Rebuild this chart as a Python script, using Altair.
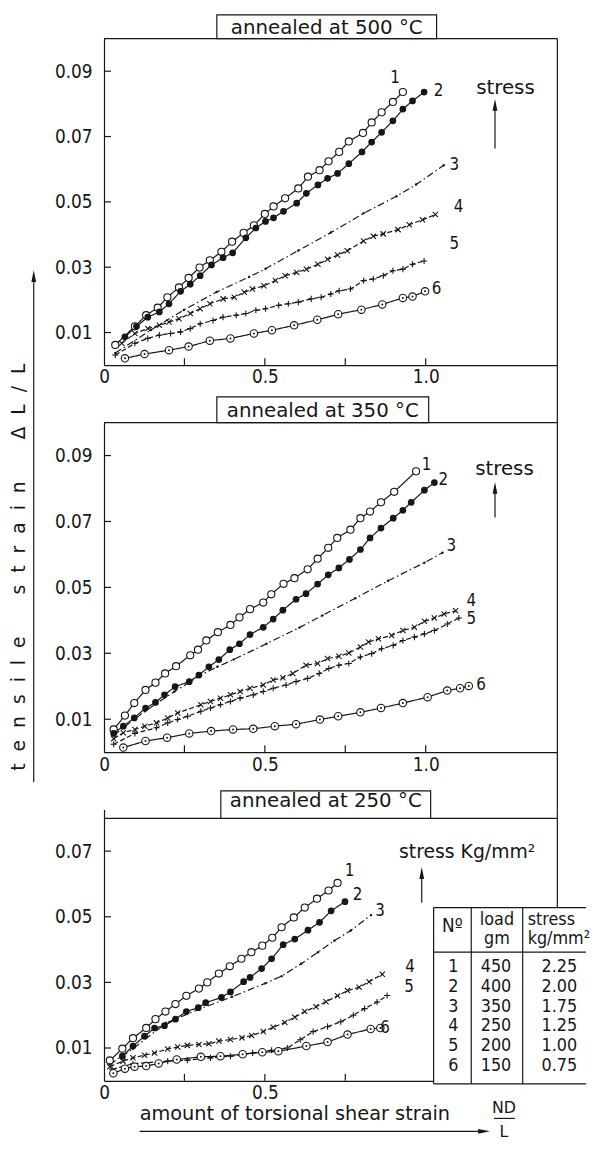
import altair as alt
import pandas as pd

# ---------------- data ----------------
SERIES = ["1", "2", "3", "4", "5", "6"]
LOAD_GM = ["450", "400", "350", "250", "200", "150"]
STRESS_KG = ["2.25", "2.00", "1.75", "1.25", "1.00", "0.75"]

# annealed at 500 C
T1_X = [0.035,0.096,0.131,0.167,0.197,0.233,0.263,0.297,0.329,0.365,0.398,0.434,0.466,0.500,0.527,0.563,0.604,0.634,0.670,0.698,0.731,0.761,0.805,0.832,0.863,0.898,0.929]
T1_Y = [0.0062,0.0119,0.0153,0.0176,0.0208,0.0238,0.0267,0.0299,0.0321,0.0347,0.0378,0.0405,0.0428,0.0463,0.0486,0.0511,0.0541,0.0577,0.0597,0.0624,0.0653,0.0685,0.0711,0.0743,0.0774,0.0806,0.0836]
T2_X = [0.065,0.101,0.136,0.172,0.202,0.238,0.268,0.299,0.334,0.370,0.400,0.441,0.472,0.502,0.527,0.558,0.599,0.629,0.665,0.695,0.726,0.761,0.802,0.832,0.863,0.898,0.929,0.959,0.995]
T2_Y = [0.0087,0.0119,0.0147,0.0163,0.0188,0.0226,0.0248,0.0274,0.0307,0.0329,0.0344,0.0390,0.0420,0.0440,0.0451,0.0471,0.0496,0.0526,0.0552,0.0572,0.0587,0.0617,0.0653,0.0683,0.0713,0.0748,0.0784,0.0809,0.0836]
T3_X = [0.035,0.146,0.248,0.350,0.451,0.502,0.604,0.705,0.807,0.909,0.970,1.056]
T3_Y = [0.0037,0.0108,0.0169,0.0224,0.0270,0.0295,0.0351,0.0406,0.0465,0.0517,0.0553,0.0612]
T4_X = [0.055,0.096,0.136,0.172,0.202,0.233,0.268,0.299,0.329,0.370,0.405,0.436,0.461,0.497,0.533,0.563,0.599,0.629,0.665,0.695,0.726,0.756,0.807,0.837,0.868,0.914,0.949,0.990,1.030]
T4_Y = [0.0067,0.0097,0.0112,0.0122,0.0132,0.0142,0.0158,0.0173,0.0188,0.0203,0.0208,0.0223,0.0233,0.0243,0.0259,0.0274,0.0284,0.0294,0.0309,0.0324,0.0337,0.0350,0.0380,0.0395,0.0402,0.0415,0.0430,0.0445,0.0461]
T5_X = [0.035,0.096,0.136,0.172,0.207,0.238,0.268,0.299,0.339,0.370,0.411,0.441,0.472,0.502,0.543,0.573,0.604,0.644,0.675,0.705,0.731,0.766,0.807,0.837,0.868,0.898,0.929,0.959,0.995]
T5_Y = [0.0031,0.0067,0.0082,0.0092,0.0097,0.0102,0.0112,0.0127,0.0137,0.0147,0.0153,0.0158,0.0168,0.0173,0.0183,0.0188,0.0193,0.0203,0.0208,0.0218,0.0228,0.0233,0.0259,0.0264,0.0274,0.0289,0.0294,0.0309,0.0319]
T6_X = [0.065,0.126,0.202,0.263,0.329,0.393,0.466,0.522,0.591,0.663,0.728,0.800,0.865,0.929,0.959,0.998]
T6_Y = [0.0021,0.0034,0.0046,0.0057,0.0075,0.0082,0.0097,0.0107,0.0122,0.0139,0.0156,0.0170,0.0186,0.0206,0.0210,0.0226]
T_LAB_X = [0.905,1.040,1.089,1.102,1.089,1.034]
T_LAB_Y = [0.0879,0.0839,0.0612,0.0485,0.0370,0.0233]

# annealed at 350 C
M1_X = [0.030,0.065,0.094,0.129,0.160,0.190,0.224,0.268,0.292,0.318,0.354,0.393,0.421,0.454,0.495,0.520,0.558,0.592,0.633,0.664,0.697,0.725,0.766,0.797,0.827,0.861,0.902,0.970]
M1_Y = [0.0069,0.0111,0.0149,0.0189,0.0211,0.0239,0.0261,0.0294,0.0311,0.0339,0.0364,0.0386,0.0409,0.0434,0.0454,0.0479,0.0511,0.0528,0.0555,0.0587,0.0620,0.0650,0.0675,0.0710,0.0730,0.0758,0.0790,0.0852]
M2_X = [0.030,0.060,0.094,0.129,0.160,0.188,0.221,0.265,0.295,0.326,0.357,0.391,0.421,0.454,0.495,0.526,0.556,0.597,0.628,0.664,0.697,0.730,0.763,0.797,0.827,0.861,0.899,0.929,0.955,0.996,1.027]
M2_Y = [0.0057,0.0079,0.0104,0.0134,0.0151,0.0174,0.0199,0.0214,0.0234,0.0259,0.0281,0.0311,0.0329,0.0357,0.0379,0.0404,0.0431,0.0464,0.0481,0.0510,0.0538,0.0559,0.0585,0.0615,0.0650,0.0680,0.0710,0.0734,0.0758,0.0795,0.0818]
M3_X = [0.030,0.127,0.219,0.301,0.352,0.403,0.505,0.607,0.679,0.781,0.883,0.996,1.052]
M3_Y = [0.0051,0.0124,0.0184,0.0234,0.0259,0.0281,0.0329,0.0378,0.0415,0.0467,0.0520,0.0575,0.0605]
M4_X = [0.030,0.060,0.096,0.127,0.163,0.198,0.229,0.301,0.331,0.362,0.393,0.423,0.454,0.495,0.526,0.556,0.587,0.628,0.664,0.695,0.730,0.761,0.797,0.822,0.853,0.894,0.929,0.965,0.996,1.027,1.057,1.093]
M4_Y = [0.0041,0.0059,0.0069,0.0079,0.0089,0.0104,0.0119,0.0144,0.0154,0.0164,0.0174,0.0184,0.0194,0.0204,0.0219,0.0226,0.0239,0.0264,0.0269,0.0284,0.0291,0.0301,0.0319,0.0334,0.0344,0.0354,0.0369,0.0379,0.0397,0.0407,0.0419,0.0429]
M5_X = [0.030,0.096,0.163,0.198,0.229,0.260,0.301,0.331,0.362,0.393,0.423,0.464,0.495,0.526,0.566,0.597,0.633,0.669,0.699,0.730,0.761,0.797,0.832,0.863,0.899,0.929,0.965,0.996,1.027,1.067,1.103]
M5_Y = [0.0024,0.0057,0.0074,0.0089,0.0099,0.0109,0.0124,0.0134,0.0144,0.0154,0.0164,0.0174,0.0184,0.0194,0.0204,0.0214,0.0224,0.0239,0.0254,0.0264,0.0269,0.0289,0.0299,0.0314,0.0324,0.0339,0.0349,0.0359,0.0369,0.0389,0.0407]
M6_X = [0.060,0.129,0.196,0.265,0.333,0.401,0.464,0.531,0.597,0.671,0.728,0.797,0.861,0.929,1.006,1.067,1.107,1.134]
M6_Y = [0.0014,0.0034,0.0044,0.0057,0.0064,0.0069,0.0071,0.0079,0.0085,0.0099,0.0109,0.0121,0.0134,0.0149,0.0167,0.0187,0.0194,0.0201]
M_LAB_X = [1.003,1.055,1.080,1.142,1.142,1.172]
M_LAB_Y = [0.0871,0.0826,0.0625,0.0459,0.0405,0.0204]

# annealed at 250 C
B1_X = [0.018,0.057,0.090,0.131,0.160,0.191,0.222,0.256,0.295,0.321,0.357,0.391,0.427,0.458,0.492,0.523,0.552,0.590,0.624,0.662,0.698,0.726]
B1_Y = [0.0062,0.0098,0.0130,0.0161,0.0188,0.0211,0.0234,0.0259,0.0281,0.0300,0.0327,0.0349,0.0372,0.0392,0.0412,0.0436,0.0468,0.0498,0.0528,0.0555,0.0580,0.0603]
B2_X = [0.057,0.090,0.126,0.157,0.188,0.222,0.256,0.293,0.316,0.365,0.393,0.434,0.454,0.490,0.521,0.557,0.593,0.634,0.670,0.706,0.749]
B2_Y = [0.0075,0.0106,0.0136,0.0161,0.0168,0.0188,0.0211,0.0223,0.0238,0.0254,0.0271,0.0302,0.0315,0.0342,0.0372,0.0415,0.0432,0.0459,0.0483,0.0518,0.0546]
B3_X = [0.018,0.090,0.193,0.295,0.398,0.501,0.552,0.613,0.665,0.716,0.767,0.830]
B3_Y = [0.0050,0.0098,0.0176,0.0218,0.0256,0.0297,0.0319,0.0357,0.0392,0.0427,0.0458,0.0505]
B4_X = [0.018,0.059,0.090,0.126,0.157,0.198,0.229,0.259,0.295,0.326,0.357,0.393,0.429,0.459,0.495,0.526,0.562,0.593,0.624,0.659,0.690,0.726,0.757,0.793,0.824,0.865]
B4_Y = [0.0043,0.0060,0.0070,0.0078,0.0085,0.0097,0.0103,0.0108,0.0111,0.0113,0.0121,0.0126,0.0131,0.0138,0.0150,0.0163,0.0178,0.0194,0.0211,0.0226,0.0241,0.0259,0.0275,0.0285,0.0302,0.0325]
B5_X = [0.025,0.090,0.198,0.259,0.331,0.393,0.462,0.521,0.570,0.610,0.650,0.695,0.736,0.775,0.810,0.849,0.880]
B5_Y = [0.0035,0.0052,0.0060,0.0063,0.0070,0.0075,0.0085,0.0093,0.0100,0.0125,0.0150,0.0165,0.0180,0.0200,0.0220,0.0240,0.0260]
B6_X = [0.029,0.065,0.095,0.131,0.170,0.226,0.301,0.362,0.431,0.492,0.542,0.629,0.695,0.757,0.829,0.859]
B6_Y = [0.0023,0.0037,0.0043,0.0045,0.0053,0.0065,0.0073,0.0075,0.0081,0.0087,0.0090,0.0106,0.0118,0.0141,0.0158,0.0161]
B_LAB_X = [0.763,0.788,0.858,0.951,0.948,0.874]
B_LAB_Y = [0.0640,0.0565,0.0516,0.0347,0.0287,0.0160]

Y_TICKS_10 = [0.01, 0.03, 0.05, 0.07, 0.09]
Y_TICKS_8 = [0.01, 0.03, 0.05, 0.07]
X_LABELS_FULL = [0, 0.5, 1.0]
X_LABELS_BOT = [0, 0.5]
X_TICKS_FULL = [0.25, 0.5, 0.75, 1.0]
X_TICKS_BOT = [0.25, 0.5, 0.75]

# ---------------- styling / layout ----------------
INK = "#161616"
FONT_T = "DejaVu Sans"
FONT_N = "DejaVu Sans Condensed, Liberation Sans Narrow, DejaVu Sans"
W = 458
XMAX = W / 325.0
GAP = 58
H_TOP, H_MID, H_BOT = 330, 333, 274
DASHES = [[1, 0], [1, 0], [7, 3, 1.5, 3], [5, 2.5], [5, 2.5], [1, 0]]
SHAPE_X = "M-1,-1L1,1M-1,1L1,-1"
SHAPE_P = "M-1,0L1,0M0,-1L0,1"
HEAD_UP = "M0,-1L0.4,1L-0.4,1Z"
HEAD_RIGHT = "M1,0L-1,0.4L-1,-0.4Z"
NB = "\u00a0"

ONE = pd.DataFrame({"k": [0]})


def panel_df(xs_list, ys_list):
    rows = []
    for s, xs, ys in zip(SERIES, xs_list, ys_list):
        for x, y in zip(xs, ys):
            rows.append({"s": s, "x": x, "y": y})
    return pd.DataFrame(rows)


def hrule(y, x1, x2, w=1.2, color=INK):
    return alt.Chart(ONE).mark_rule(color=color, strokeWidth=w).encode(
        y=alt.value(y), x=alt.value(x1), x2=alt.value(x2))


def vrule(x, y1, y2, w=1.2, color=INK):
    return alt.Chart(ONE).mark_rule(color=color, strokeWidth=w).encode(
        x=alt.value(x), y=alt.value(y1), y2=alt.value(y2))


def txt(t, x, y, size, font=FONT_T, align="left", baseline="alphabetic", angle=0, lh=None):
    kw = dict(text=t, font=font, fontSize=size, align=align, baseline=baseline, color=INK)
    if angle:
        kw["angle"] = angle
    if lh:
        kw["lineHeight"] = lh
    return alt.Chart(ONE).mark_text(**kw).encode(x=alt.value(x), y=alt.value(y))


def head(shape, x, y, size=144):
    return alt.Chart(ONE).mark_point(shape=shape, filled=True, color=INK, size=size,
                                     opacity=1, strokeWidth=0).encode(x=alt.value(x), y=alt.value(y))


def rect(x1, x2, y1, y2, stroke=True):
    kw = dict(fill="white")
    if stroke:
        kw.update(stroke=INK, strokeWidth=1.2)
    else:
        kw.update(strokeWidth=0)
    return alt.Chart(ONE).mark_rect(**kw).encode(
        x=alt.value(x1), x2=alt.value(x2), y=alt.value(y1), y2=alt.value(y2))


def panel(xs_list, ys_list, lab_x, lab_y, h, ymax, yticks, xlabels, xticks, extras_after):
    df = panel_df(xs_list, ys_list)
    xsc = alt.Scale(domain=[0, XMAX], nice=False, zero=False)
    ysc = alt.Scale(domain=[0, ymax], nice=False, zero=False)
    X = alt.X("x:Q", scale=xsc, title=None, axis=alt.Axis(
        values=xlabels, labelExpr="datum.value == 0 ? '0' : format(datum.value, '.1f')",
        ticks=False, grid=False, domainColor=INK, domainWidth=1.2, labelFont=FONT_N,
        labelFontSize=19, labelColor=INK, labelPadding=3, labelFlush=False, labelOverlap=False))
    Y = alt.Y("y:Q", scale=ysc, title=None, axis=alt.Axis(
        values=yticks, format=".2f", ticks=False, grid=False, domainColor=INK, domainWidth=1.2,
        labelFont=FONT_N, labelFontSize=19, labelColor=INK, labelPadding=12,
        labelFlush=False, labelOverlap=False))
    base = alt.Chart(df)

    def sel(s):
        return base.transform_filter(f"datum.s == '{s}'")

    layers = [
        base.mark_line(color=INK, strokeWidth=1.2).encode(
            X, Y, strokeDash=alt.StrokeDash("s:N", scale=alt.Scale(domain=SERIES, range=DASHES), legend=None)),
        sel("1").mark_point(shape="circle", filled=True, fill="white", stroke=INK,
                            strokeWidth=1.1, size=52, opacity=1).encode(X, Y),
        sel("2").mark_point(shape="circle", filled=True, color=INK, size=46, opacity=1).encode(X, Y),
        sel("3").mark_point(shape="circle", filled=True, color=INK, size=6, opacity=1).encode(X, Y),
        sel("4").mark_point(shape=SHAPE_X, filled=False, color=INK, strokeWidth=1.1, size=28, opacity=1).encode(X, Y),
        sel("5").mark_point(shape=SHAPE_P, filled=False, color=INK, strokeWidth=1.1, size=38, opacity=1).encode(X, Y),
        sel("6").mark_point(shape="circle", filled=True, fill="white", stroke=INK,
                            strokeWidth=1.1, size=56, opacity=1).encode(X, Y),
        sel("6").mark_point(shape="circle", filled=True, color=INK, size=4, opacity=1).encode(X, Y),
        alt.Chart(pd.DataFrame({"y": yticks})).mark_rule(color=INK, strokeWidth=1.2).encode(
            Y, x=alt.value(0), x2=alt.value(7)),
        alt.Chart(pd.DataFrame({"x": xticks})).mark_rule(color=INK, strokeWidth=1.2).encode(
            X, y=alt.value(h), y2=alt.value(h - 7)),
        alt.Chart(pd.DataFrame({"s": SERIES, "x": lab_x, "y": lab_y})).mark_text(
            font=FONT_N, fontSize=17, color=INK).encode(X, Y, text="s:N"),
    ]
    layers += list(extras_after)
    return alt.layer(*layers).properties(width=W, height=h)


# ---------------- top panel ----------------
top_extra = [
    hrule(0, 0, W), vrule(W, 0, H_TOP + GAP),
    rect(114, 336, -24, 0),
    txt("annealed at 500 °C", 225, -5, 20, align="center"),
    txt("stress", 376, 56, 20),
    vrule(395, 66, 111), head(HEAD_UP, 395, 67),
    vrule(-96, 0, 4, w=1, color="white"),
]
top = panel([T1_X, T2_X, T3_X, T4_X, T5_X, T6_X], [T1_Y, T2_Y, T3_Y, T4_Y, T5_Y, T6_Y],
            T_LAB_X, T_LAB_Y, H_TOP, 0.1, Y_TICKS_10, X_LABELS_FULL, X_TICKS_FULL, top_extra)

# ---------------- middle panel ----------------
ylab = (NB * 2).join("tensile") + NB * 7 + (NB * 2).join("strain") + NB * 7 + (NB * 2).join("ΔL/L")
mid_extra = [
    hrule(0, 0, W), vrule(W, 0, H_MID + GAP),
    rect(114, 328, -26, 0),
    txt("annealed at 350 °C", 221, -6, 20, align="center"),
    txt("stress", 375, 53, 20),
    vrule(395, 65, 96), head(HEAD_UP, 395, 66),
    txt(ylab, -86, 146, 19, align="center", baseline="middle", angle=270),
    vrule(-71, -148, 363), head(HEAD_UP, -71, -148),
]
mid = panel([M1_X, M2_X, M3_X, M4_X, M5_X, M6_X], [M1_Y, M2_Y, M3_Y, M4_Y, M5_Y, M6_Y],
            M_LAB_X, M_LAB_Y, H_MID, 0.1, Y_TICKS_10, X_LABELS_FULL, X_TICKS_FULL, mid_extra)

# ---------------- bottom panel ----------------
YMAX_B = H_BOT / 3315.0
FT = H_BOT - 0.08 / YMAX_B * H_BOT  # frame top line position
TL, TR, TT, TB = 333, 487, 99, 277
bot_extra = [
    hrule(FT, 0, W), vrule(W, 0, TT),
    rect(118, 330, -19, FT),
    txt("annealed at 250 °C", 224, -3, 20, align="center"),
    txt("stress Kg/mm²", 298, 49, 19),
    vrule(321, 63, 94), head(HEAD_UP, 321, 64),
    # table
    rect(TL, TR, TT, TB, stroke=False),
    hrule(TT, TL, TR), hrule(144, TL, TR), hrule(TB, TL, TR),
    vrule(TL, TT, TB), vrule(371, TT, TB), vrule(423, TT, TB),
    txt("Nº", 352, 124, 19, font=FONT_N, align="center"),
    txt(["load", "gm"], 397, 117, 18, font=FONT_N, align="center", lh=19),
    txt(["stress", "kg/mm²"], 428, 117, 18, font=FONT_N, lh=19),
    txt(SERIES, 353, 164, 18, font=FONT_N, align="center", lh=20),
    txt(LOAD_GM, 396, 164, 18, font=FONT_N, align="center", lh=20),
    txt(STRESS_KG, 460, 164, 18, font=FONT_N, align="center", lh=20),
    # x axis title
    txt("amount of torsional shear strain", 36, 314, 19.5),
    hrule(325, 36, 384), head(HEAD_RIGHT, 384, 325),
    txt("ND", 404, 307, 16, align="center"),
    hrule(312, 394, 415),
    txt("L", 404, 331, 16, align="center"),
]
bot = panel([B1_X, B2_X, B3_X, B4_X, B5_X, B6_X], [B1_Y, B2_Y, B3_Y, B4_Y, B5_Y, B6_Y],
            B_LAB_X, B_LAB_Y, H_BOT, YMAX_B, Y_TICKS_8, X_LABELS_BOT, X_TICKS_BOT, bot_extra)

chart = alt.vconcat(top, mid, bot, spacing=GAP, bounds="flush").properties(
    padding={"left": 0, "top": 0, "right": 0, "bottom": 0}, background="white"
).configure_view(strokeWidth=0, stroke="transparent")

chart.save("out.html", embed_options={"renderer": "svg", "actions": False})
